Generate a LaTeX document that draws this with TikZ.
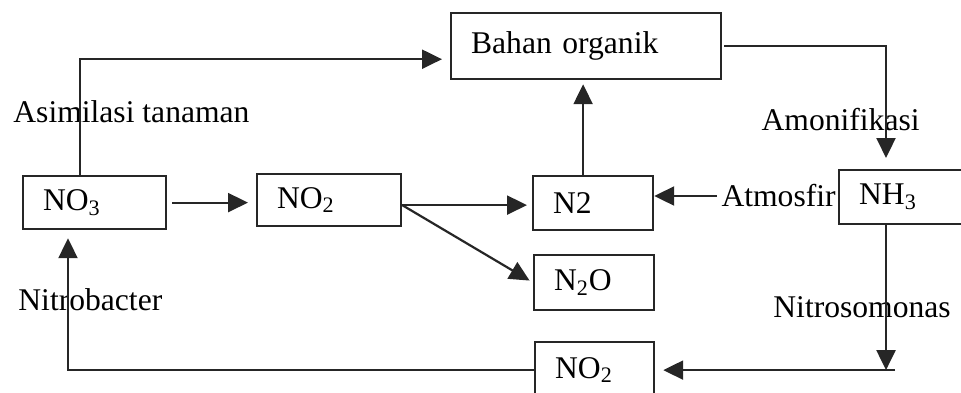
\documentclass[tikz,border=0pt]{standalone}
\usepackage{fontspec}
\setmainfont{Liberation Serif}
\usetikzlibrary{arrows.meta, calc, positioning}
\tikzset{
  kotak/.style={rectangle, draw=black!85, line width=1.1pt, anchor=north west,
                align=left, inner xsep=10pt, inner ysep=0pt,
                font=\fontsize{15.8}{18}\selectfont},
  ket/.style={inner sep=0pt, font=\fontsize{15.8}{18}\selectfont},
  panah/.style={-{Triangle[length=10pt, width=9.5pt]}, line width=1.1pt,
                draw=black!85, shorten >=4pt}
}

\begin{document}
\begin{tikzpicture}[x=0.5pt, y=-0.5pt]
  \useasboundingbox (0,0) rectangle (961,392);
  % kotak
  \node[kotak, text width=115pt, minimum height=33pt] (bahan) at (450,12) {Bahan organik};
  \node[kotak, text width=51.5pt, minimum height=26.5pt] (no3) at (22,175) {NO\textsubscript{3}};
  \node[kotak, text width=52pt, minimum height=26pt] (no2a) at (256,173) {NO\textsubscript{2}};
  \node[kotak, text width=40pt, minimum height=27pt] (n2) at (532,175) {N2};
  \node[kotak, text width=40pt, minimum height=27.5pt] (n2o) at (533,254) {N\textsubscript{2}O};
  \node[kotak, text width=39.5pt, minimum height=28pt] (no2b) at (534,341) {NO\textsubscript{2}};
  \node[kotak, text width=55pt, minimum height=27pt] (nh3) at (838,169) {NH\textsubscript{3}};
  % keterangan
  \node[ket, anchor=west] (asim) at (13,112) {Asimilasi tanaman};
  \node[ket, anchor=east] (amon) at (920,120) {Amonifikasi};
  \node[ket, anchor=east] (atm) at (836,196) {Atmosfir};
  \node[ket, anchor=west] (nbac) at (18,300) {Nitrobacter};
  \node[ket, anchor=west] (nsom) at (773,307) {Nitrosomonas};
  % panah
  \draw[panah] ($(no3.north west)+(58,0)$) |- ($(bahan.south west)+(0,-21)$);
  \coordinate (n2atas) at ($(n2.north)+(-10,0)$);
  \draw[panah, shorten >=2pt] (n2atas) -- (n2atas |- bahan.south);
  \draw[panah, shorten >=5.5pt, shorten <=1pt] (bahan.east) -| ($(nh3.north west)+(48,0)$);
  \draw[panah, shorten <=2.5pt] (no3.east) -- (no3.east -| no2a.west);
  \coordinate (cabang) at ($(no2a.east)+(0,5)$);
  \draw[panah, shorten >=2.5pt] (cabang) -- (cabang -| n2.west);
  \draw[panah, shorten >=2pt] (cabang) -- (n2o.west);
  \draw[panah, shorten >=0pt, shorten <=2pt] (atm.west) -- (atm.west -| n2.east);
  \coordinate (nh3bawah) at ($(nh3.south west)+(48,0)$);
  \coordinate (sudut) at (nh3bawah |- no2b.east);
  \draw[panah, shorten >=0pt] (nh3bawah) -- (sudut);
  \draw[panah] ($(sudut)+(9,0)$) -- (no2b.east);
  \draw[panah] (no2b.west) -| ($(no3.south west)+(46,0)$);
\end{tikzpicture}
\end{document}
